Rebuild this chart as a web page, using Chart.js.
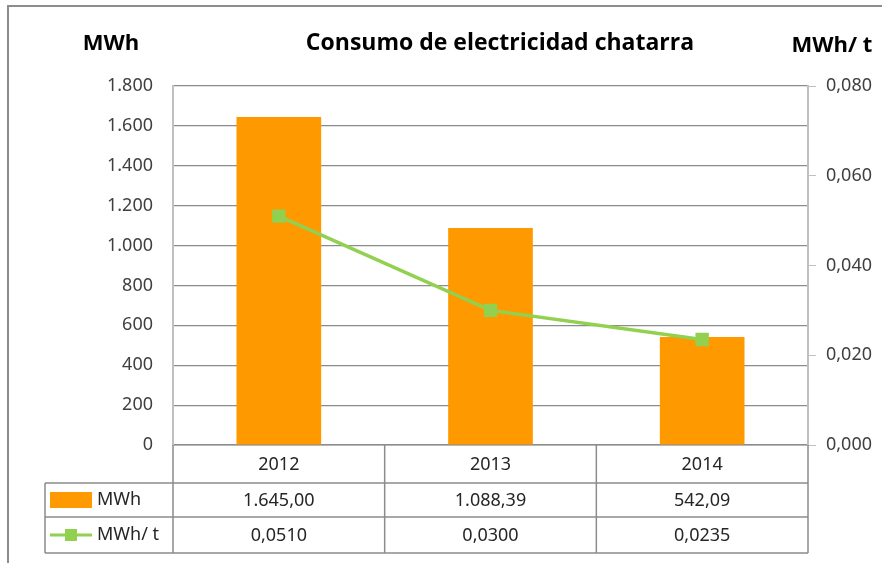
<!DOCTYPE html>
<html>
<head>
<meta charset="utf-8">
<script src="https://cdn.jsdelivr.net/npm/chart.js@4.4.1/dist/chart.umd.min.js"></script>
<style>
  html, body { margin: 0; padding: 0; background: #fff; }
  #wrap { width: 882px; height: 563px; position: relative; }
</style>
</head>
<body>
<div id="wrap"><canvas id="chart" width="882" height="563"></canvas></div>
<script>
// data
const years = ['2012', '2013', '2014'];
const mwh = [1645.00, 1088.39, 542.09];
const mwhPerT = [0.0510, 0.0300, 0.0235];
const mwhLabels = ['1.645,00', '1.088,39', '542,09'];
const ratioLabels = ['0,0510', '0,0300', '0,0235'];

const orange = '#FF9900';
const green = '#92D050';
const gridGrey = '#8c8c8c';
const axisGrey = '#c0c0c0';
const textCol = '#262626';

function esNumber(v, dec) {
    let s = v.toFixed(dec).replace('.', ',');
    let parts = s.split(',');
    parts[0] = parts[0].replace(/\B(?=(\d{3})+(?!\d))/g, '.');
    return parts.join(',');
}

// draws title, axis titles, outer frame and the data table under the plot
const tablePlugin = {
    id: 'tablePlugin',
    afterDraw(chart) {
        const ctx = chart.ctx;
        const area = chart.chartArea;
        const x = chart.scales.x;
        const colW = (area.right - area.left) / years.length;
        const top = area.bottom;
        const rows = [top, 483, 517, 553];
        const legendLeft = 45;

        ctx.save();
        // outer frame
        ctx.strokeStyle = '#8c8c8c';
        ctx.lineWidth = 2;
        ctx.beginPath();
        ctx.moveTo(8, 600);
        ctx.lineTo(8, 6);
        ctx.lineTo(900, 6);
        ctx.stroke();

        // titles
        ctx.fillStyle = '#000';
        ctx.textBaseline = 'middle';
        ctx.textAlign = 'center';
        ctx.font = 'bold 23px "Open Sans"';
        ctx.fillText('Consumo de electricidad chatarra', 500, 43);
        ctx.font = 'bold 22px "Open Sans"';
        ctx.fillText('MWh', 111, 44);
        ctx.fillText('MWh/ t', 832, 46);

        // table grid
        ctx.strokeStyle = gridGrey;
        ctx.lineWidth = 1.5;
        ctx.beginPath();
        for (let i = 1; i < rows.length; i++) {
            ctx.moveTo(legendLeft, rows[i]);
            ctx.lineTo(area.right, rows[i]);
        }
        ctx.moveTo(legendLeft, rows[1]);
        ctx.lineTo(legendLeft, rows[3]);
        for (let i = 0; i <= years.length; i++) {
            const vx = area.left + i * colW;
            ctx.moveTo(vx, rows[0]);
            ctx.lineTo(vx, rows[3]);
        }
        ctx.stroke();

        // table text
        ctx.fillStyle = textCol;
        ctx.font = '18px "Noto Sans"';
        ctx.textAlign = 'center';
        years.forEach((y, i) => {
            const cx = x.getPixelForValue(i);
            ctx.fillText(y, cx, (rows[0] + rows[1]) / 2 + 1);
            ctx.fillText(mwhLabels[i], cx, (rows[1] + rows[2]) / 2 + 1);
            ctx.fillText(ratioLabels[i], cx, (rows[2] + rows[3]) / 2 + 1);
        });

        // legend keys
        const r1 = (rows[1] + rows[2]) / 2;
        const r2 = (rows[2] + rows[3]) / 2;
        ctx.fillStyle = orange;
        ctx.fillRect(50, r1 - 8, 42, 16);
        ctx.strokeStyle = green;
        ctx.lineWidth = 3;
        ctx.beginPath();
        ctx.moveTo(50, r2);
        ctx.lineTo(92, r2);
        ctx.stroke();
        ctx.fillStyle = green;
        ctx.fillRect(65, r2 - 6, 12, 12);
        ctx.fillStyle = textCol;
        ctx.textAlign = 'left';
        ctx.fillText('MWh', 97, r1);
        ctx.fillText('MWh/ t', 97, r2);
        ctx.restore();
    }
};

const ctx = document.getElementById('chart').getContext('2d');
new Chart(ctx, {
    data: {
        labels: years,
        datasets: [
            {
                type: 'line',
                label: 'MWh/ t',
                data: mwhPerT,
                yAxisID: 'y1',
                borderColor: green,
                backgroundColor: green,
                borderWidth: 3.5,
                pointStyle: 'rect',
                pointRadius: 7,
                pointHoverRadius: 7,
                tension: 0,
                order: 0
            },
            {
                type: 'bar',
                label: 'MWh',
                data: mwh,
                yAxisID: 'y',
                backgroundColor: orange,
                categoryPercentage: 1,
                barPercentage: 0.4,
                order: 1
            }
        ]
    },
    options: {
        responsive: false,
        animation: false,
        layout: { padding: { top: 86, left: 0, right: 0, bottom: 0 } },
        plugins: {
            legend: { display: false },
            tooltip: { enabled: false },
            title: { display: false }
        },
        scales: {
            x: {
                offset: true,
                grid: { display: false },
                border: { color: gridGrey, width: 1.5 },
                ticks: { display: false },
                afterFit: s => { s.height = 563 - 445; }
            },
            y: {
                position: 'left',
                min: 0,
                max: 1800,
                ticks: {
                    stepSize: 200,
                    padding: 20,
                    color: '#404040',
                    font: { family: 'Noto Sans', size: 18 },
                    callback: v => esNumber(v, 0)
                },
                grid: { color: gridGrey, lineWidth: 1.2, tickLength: 0 },
                border: { color: axisGrey, width: 2 },
                afterFit: s => { s.width = 173; }
            },
            y1: {
                position: 'right',
                min: 0,
                max: 0.08,
                ticks: {
                    stepSize: 0.02,
                    padding: 10,
                    color: '#404040',
                    font: { family: 'Noto Sans', size: 18 },
                    callback: v => esNumber(v, 3)
                },
                grid: { drawOnChartArea: false, color: axisGrey, tickLength: 8 },
                border: { color: axisGrey, width: 2 },
                afterFit: s => { s.width = 882 - 808; }
            }
        }
    },
    plugins: [tablePlugin]
});
</script>
</body>
</html>
